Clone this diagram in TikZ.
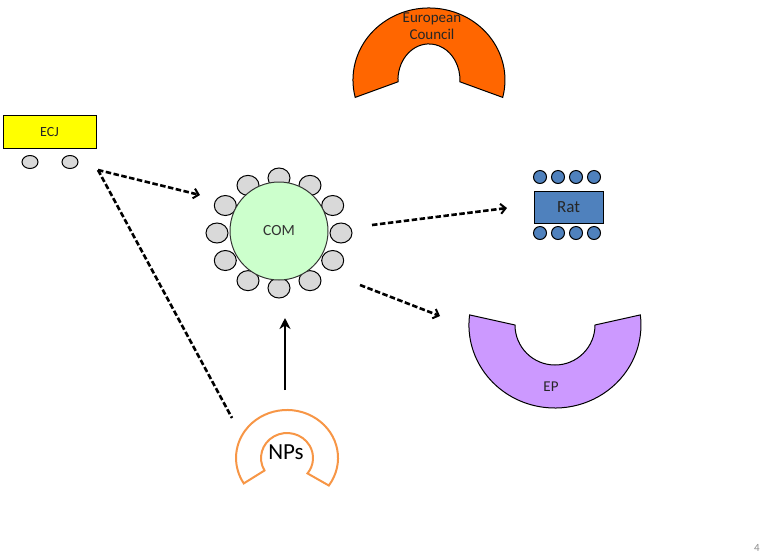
\documentclass[tikz,border=0pt]{standalone}
\usepackage{fontspec}
\setmainfont{Carlito}
\usetikzlibrary{arrows.meta,shapes.geometric}
\definecolor{ecorange}{RGB}{255,102,0}
\definecolor{ecjyellow}{RGB}{255,255,0}
\definecolor{comgreen}{RGB}{204,255,204}
\definecolor{seatgray}{RGB}{217,217,217}
\definecolor{ratblue}{RGB}{79,129,189}
\definecolor{eplilac}{RGB}{204,153,255}
\definecolor{nporange}{RGB}{247,150,70}
\tikzset{
  outl/.style={draw=black, line width=1pt},
  seat/.style={ellipse, outl, fill=seatgray, minimum width=22pt, minimum height=20pt, inner sep=0pt},
  ratseat/.style={circle, outl, fill=ratblue, minimum size=13pt, inner sep=0pt},
  ecjseat/.style={ellipse, outl, fill=seatgray, minimum width=16pt, minimum height=13pt, inner sep=0pt},
  dasharrow/.style={line width=2.6pt, dash pattern=on 5.5pt off 2.5pt, -{Straight Barb[length=5pt,width=10pt,line width=2pt]}},
  dashline/.style={line width=2.6pt, dash pattern=on 5.5pt off 2.5pt},
  solidarrow/.style={line width=2.4pt, -{Stealth[length=11pt,width=11pt]}},
  lbl/.style={font=\fontsize{15}{17}\selectfont, align=center, text=black!85}
}
\begin{document}
\begin{tikzpicture}[x=1pt,y=-1pt]
\useasboundingbox (0,0) rectangle (763,558);

% European Council
\path[outl, fill=ecorange] (502.7,97.4) arc[start angle=14, end angle=-194, x radius=76, y radius=72]
  -- (398,81.8) arc[start angle=-183, end angle=3, x radius=31, y radius=36] -- cycle;
\node[lbl] (ec) at (432,26) {European\\Council};

% ECJ
\node[outl, fill=ecjyellow, minimum width=93pt, minimum height=33pt, inner sep=0pt, font=\fontsize{14}{16}\selectfont, text=black!85] (ecj) at (49.5,131.5) {ECJ};
\node[ecjseat] (ecjs1) at (30,162) {};
\node[ecjseat] (ecjs2) at (70,162) {};

% COM
\foreach \a [count=\i] in {0,30,...,330} {
  \node[seat] (seat\i) at ({279+62*cos(\a)},{233+55*sin(\a)}) {};
}
\node[circle, draw=black!80, line width=1pt, fill=comgreen, minimum size=98pt, inner sep=0pt, font=\fontsize{15.5}{17}\selectfont, text=black!80] (com) at (279,231) {COM};

% Rat
\node[outl, fill=ratblue, minimum width=69pt, minimum height=32pt, inner sep=0pt, font=\fontsize{17}{19}\selectfont, text=black!85] (rat) at (568.5,207) {Rat};
\foreach \x [count=\i] in {540,558,576,594} {
  \node[ratseat] (rtop\i) at (\x,177) {};
  \node[ratseat] (rbot\i) at (\x,233) {};
}

% EP
\path[outl, fill=eplilac] (469.6,314.9) arc[start angle=187, end angle=-7, x radius=86, y radius=83]
  -- (595,325) arc[start angle=0, end angle=180, radius=40] -- cycle;
\node[lbl] (ep) at (551,387) {EP};

% NPs
\path[draw=nporange, line width=2pt, fill=white] (328.8,485.5) arc[start angle=35, end angle=-212, x radius=51, y radius=48]
  -- (264.5,470.5) arc[start angle=-210, end angle=38, x radius=26, y radius=25] -- cycle;
\node[font=\fontsize{23}{25}\selectfont] (nps) at (286,452) {NPs};

% connector points
\coordinate (ecjc) at (98,170);
\coordinate (comin) at (200,195);
\coordinate (npsin) at (232,418);
\coordinate (comr) at (372,225);
\coordinate (ratin) at (507,208);
\coordinate (comb) at (360,285);
\coordinate (epin) at (440,316);
\coordinate (npsout) at (285,390);
\coordinate (combot) at (285,318);

\draw[dasharrow] (ecjc) -- (comin);
\draw[dashline] (ecjc) -- (npsin);
\draw[dasharrow] (comr) -- (ratin);
\draw[dasharrow] (comb) -- (epin);
\draw[solidarrow] (npsout) -- (combot);

\node[text=black!45, font=\fontsize{11}{13}\selectfont] (pnum) at (757,548) {4};
\end{tikzpicture}
\end{document}
